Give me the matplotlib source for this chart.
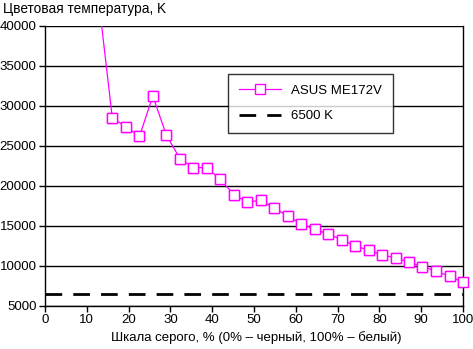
import matplotlib
matplotlib.use("Agg")
import matplotlib.pyplot as plt

# grey level, % and measured colour temperature, K
gray = [12.9, 16.1, 19.4, 22.6, 25.8, 29.0, 32.3, 35.5, 38.7, 41.9, 45.2, 48.4,
        51.6, 54.8, 58.1, 61.3, 64.5, 67.7, 71.0, 74.2, 77.4, 80.6, 83.9, 87.1,
        90.3, 93.5, 96.8, 100.0]
temp = [43000, 28500, 27400, 26200, 31250, 26400, 23400, 22300, 22300, 20850,
        18900, 18000, 18200, 17300, 16200, 15300, 14600, 14000, 13300, 12500,
        12000, 11400, 11000, 10500, 9900, 9400, 8700, 8000]
ref_temp = 6500
xticks = list(range(0, 101, 10))
yticks = list(range(5000, 40001, 5000))

plt.rcParams['font.family'] = ['Liberation Sans', 'DejaVu Sans']
fs = 9.5

fig = plt.figure(figsize=(4.73, 3.49), dpi=100)
ax = fig.add_axes([45/473, 1 - 306/349, 418/473, 280/349])

ymin, ymax = 5000, 40000
mk = dict(marker='s', markersize=6.5, markerfacecolor='white',
          markeredgecolor='#FF00FF', markeredgewidth=1.0)
ax.plot(gray, temp, color='#FF00FF', lw=0.9, label='ASUS ME172V', zorder=3, **mk)
# markers inside the value range are drawn whole, even at the axes edge
vis = [(g, t) for g, t in zip(gray, temp) if ymin <= t <= ymax]
ax.plot([v[0] for v in vis], [v[1] for v in vis], ls='none', clip_on=False,
        zorder=4, **mk)
ax.axhline(ref_temp, color='black', lw=2, dashes=(6, 4), label='6500 K', zorder=2)

ax.set_xlim(0, 100)
ax.set_ylim(ymin, ymax)
ax.set_xticks(xticks)
ax.set_yticks(yticks)
ax.yaxis.grid(True, color='black', lw=1)
ax.set_axisbelow(True)
ax.spines['top'].set_visible(False)
for s in ['left', 'bottom', 'right']:
    ax.spines[s].set_linewidth(1)
ax.tick_params(direction='out', length=4, width=1, labelsize=fs, pad=2)

fig.text(3/473, 1 - 9/349, 'Цветовая температура, K', fontsize=fs + 0.3,
         va='center', ha='left')
fig.text(256/473, 1 - 338/349, 'Шкала серого, % (0% – черный, 100% – белый)',
         fontsize=fs, va='center', ha='center')

leg = ax.legend(loc='upper left', bbox_to_anchor=((228-45)/418, (306-74)/280),
                frameon=True, fancybox=False, fontsize=fs, handlelength=3.2,
                borderpad=0.8, labelspacing=1.0, borderaxespad=0)
leg.get_frame().set_edgecolor('black')
leg.get_frame().set_linewidth(1)

fig.savefig('out.png', dpi=100)
